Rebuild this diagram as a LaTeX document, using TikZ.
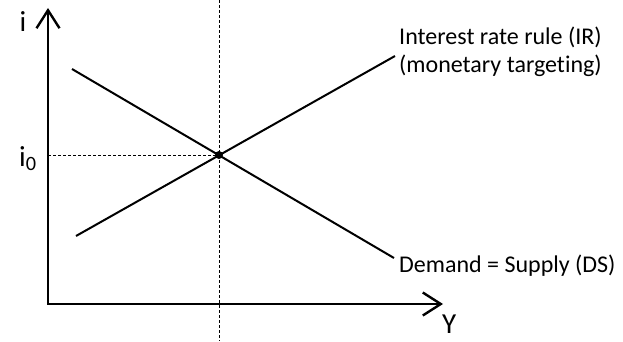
\documentclass[tikz,border=0pt]{standalone}
\usepackage{fontspec}
\setmainfont{Carlito}[Ligatures=NoCommon]
\usetikzlibrary{arrows.meta, positioning, calc}
\begin{document}
\begin{tikzpicture}[x=1pt,y=1pt,
  axis/.style={line width=2.4pt,{Straight Barb[length=18pt,width=23pt,line width=2.4pt]}-{Straight Barb[length=18pt,width=23pt,line width=2.4pt]}},
  curve/.style={line width=2pt},
  guide/.style={line width=0.9pt,dash pattern=on 3pt off 2pt},
  label/.style={font=\fontsize{24}{28}\selectfont,align=left,inner sep=0pt},
  axislabel/.style={font=\fontsize{29}{34}\selectfont,inner sep=0pt},
  dot/.style={circle,fill,inner sep=0pt,minimum size=8pt}]
  \useasboundingbox (0,0) rectangle (623,341);
  \coordinate (ytop) at (48,333);
  \coordinate (xtip) at (443,37);
  \coordinate (i0) at (48,186);
  \coordinate (vtop) at (219,341);
  \coordinate (vbot) at (219,0);
  \coordinate (dsA) at (72,272);
  \coordinate (dsB) at (394,83);
  \coordinate (irA) at (76,105);
  \coordinate (irB) at (395,285);
  \node[dot] (eq) at (219,186) {};
  \draw[guide] (vtop) -- (vbot);
  \draw[guide] (i0) -- (eq.center);
  \draw[curve] (dsA) -- (dsB);
  \draw[curve] (irA) -- (irB);
  \draw[axis] (ytop) |- (xtip);
  \node[label,anchor=base west] (irlab) at (399,269) {Interest rate rule (IR)\\(monetary targeting)};
  \node[label,anchor=base west] (dslab) at (399,69) {Demand = Supply (DS)};
  \node[axislabel,anchor=north west] (ylab) at (442,26) {Y};
  \node[axislabel,anchor=center] (ilab) at (23,319) {i};
  \node[axislabel,anchor=base west] (i0lab) at (19,175) {i\textsubscript{0}};
\end{tikzpicture}
\end{document}
